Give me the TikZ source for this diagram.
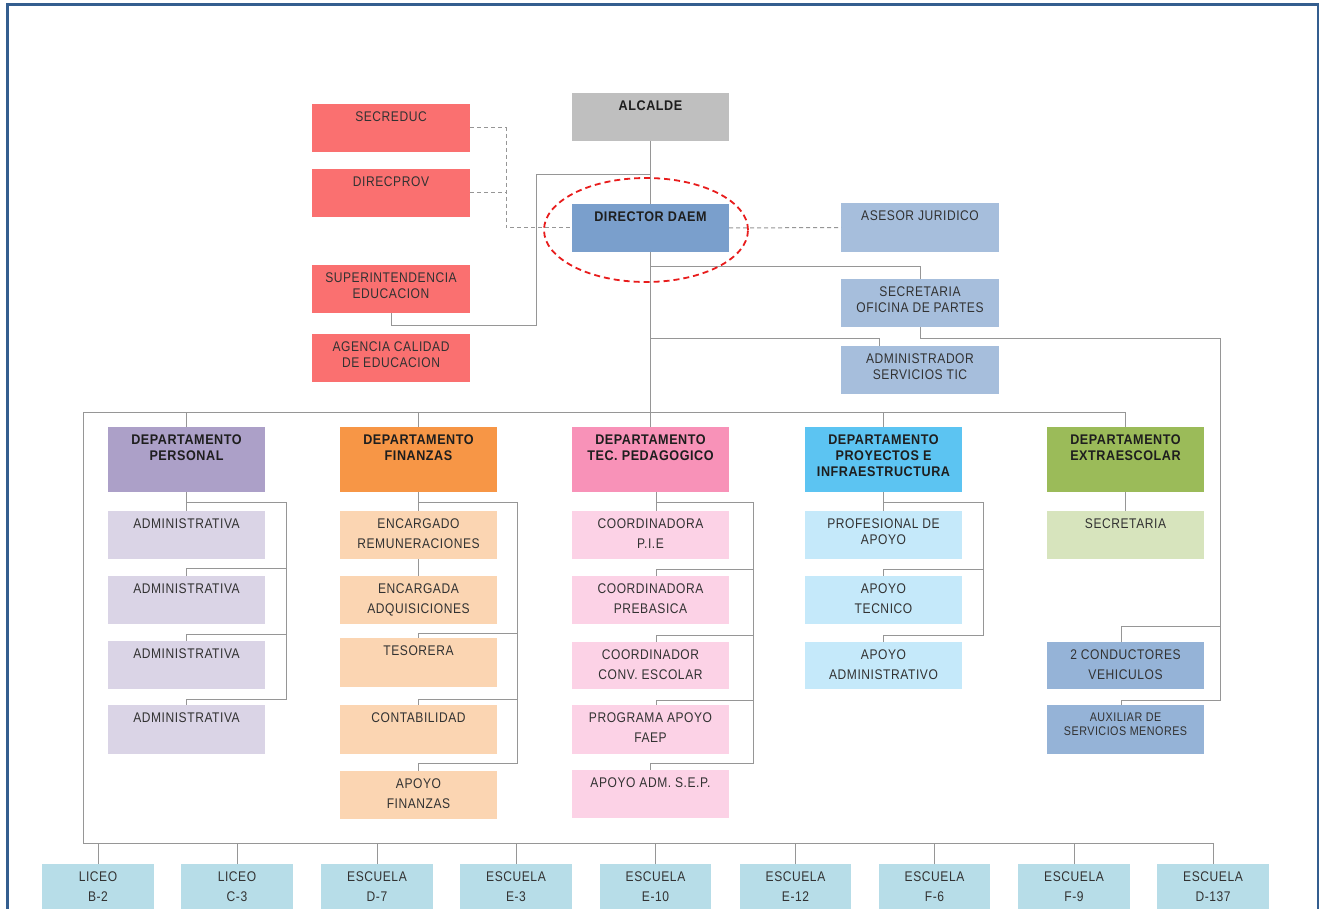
\documentclass[tikz,border=0pt]{standalone}
\usepackage{fontspec}
\newfontfamily\orgfont[FakeStretch=0.86,LetterSpace=4,BoldFeatures={FakeStretch=0.9}]{Liberation Sans}
\definecolor{frame}{RGB}{52,94,143}
\definecolor{lngray}{RGB}{150,150,150}
\definecolor{txtgray}{RGB}{50,50,50}
\definecolor{hdgray}{RGB}{30,30,30}
\definecolor{cGray}{RGB}{191,191,191}
\definecolor{cRed}{RGB}{250,112,112}
\definecolor{cDir}{RGB}{122,159,204}
\definecolor{cLB}{RGB}{166,190,220}
\definecolor{cPur}{RGB}{172,160,200}
\definecolor{cPurL}{RGB}{218,212,230}
\definecolor{cOr}{RGB}{247,150,70}
\definecolor{cOrL}{RGB}{251,213,178}
\definecolor{cPk}{RGB}{248,146,184}
\definecolor{cPkL}{RGB}{252,210,230}
\definecolor{cSky}{RGB}{92,196,242}
\definecolor{cSkyL}{RGB}{197,233,250}
\definecolor{cGr}{RGB}{155,187,89}
\definecolor{cGrL}{RGB}{215,228,189}
\definecolor{cMB}{RGB}{149,179,215}
\definecolor{cSch}{RGB}{183,221,232}
\definecolor{hlred}{RGB}{232,28,28}
\newcommand{\bx}[8]{%
  \node[box,fill=#6,minimum width={#4-#2},minimum height={#5-#3},anchor=north west] (#1) at (#2,#3) {};
  \node[txt,#7,anchor=north] (#1-t) at ([yshift=-8pt]#1.north) {#8};}
\tikzset{
  box/.style={rectangle,draw=none,inner sep=0pt,outer sep=0pt},
  txt/.style={inner sep=0pt,outer sep=0pt,align=center,text=txtgray,font=\orgfont\fontsize{14}{16}\selectfont},
  lsp/.style={font=\orgfont\fontsize{14}{20}\selectfont},
  hd/.style={text=hdgray,font=\orgfont\bfseries\fontsize{14}{16}\selectfont},
  sm/.style={font=\orgfont\fontsize{12.5}{14}\selectfont},
  ln/.style={draw=lngray,line width=1pt},
  dln/.style={draw=lngray,line width=1pt,dash pattern=on 4pt off 3pt},
}
\begin{document}
\begin{tikzpicture}[x=1pt,y=-1pt]
\useasboundingbox (0,0) rectangle (1321,909);
\fill[white] (0,0) rectangle (1321,909);
% frame
\draw[frame,line width=2.7pt] (7.3,915) -- (7.3,4.3) -- (1318,4.3) -- (1318,915);

% top level
\bx{alcalde}{572}{93}{729}{141}{cGray}{hd}{ALCALDE}
\bx{secreduc}{312}{104}{470}{152}{cRed}{}{SECREDUC}
\bx{direcprov}{312}{169}{470}{217}{cRed}{}{DIRECPROV}
\bx{superint}{312}{265}{470}{313}{cRed}{}{SUPERINTENDENCIA\\EDUCACION}
\bx{agencia}{312}{334}{470}{382}{cRed}{}{AGENCIA CALIDAD\\DE EDUCACION}
\bx{director}{572}{204}{729}{252}{cDir}{hd}{DIRECTOR DAEM}
\bx{asesor}{841}{203}{999}{252}{cLB}{}{ASESOR JURIDICO}
\bx{secofi}{841}{279}{999}{327}{cLB}{}{SECRETARIA\\OFICINA DE PARTES}
\bx{admtic}{841}{346}{999}{394}{cLB}{}{ADMINISTRADOR\\SERVICIOS TIC}

% departments
\bx{personal}{108}{427}{265}{492}{cPur}{hd}{DEPARTAMENTO\\PERSONAL}
\bx{fin}{340}{427}{497}{492}{cOr}{hd}{DEPARTAMENTO\\FINANZAS}
\bx{tecped}{572}{427}{729}{492}{cPk}{hd}{DEPARTAMENTO\\TEC. PEDAGOGICO}
\bx{proy}{805}{427}{962}{492}{cSky}{hd}{DEPARTAMENTO\\PROYECTOS E\\INFRAESTRUCTURA}
\bx{extra}{1047}{427}{1204}{492}{cGr}{hd}{DEPARTAMENTO\\EXTRAESCOLAR}

% personal
\bx{p1}{108}{511}{265}{559}{cPurL}{}{ADMINISTRATIVA}
\bx{p2}{108}{576}{265}{624}{cPurL}{}{ADMINISTRATIVA}
\bx{p3}{108}{641}{265}{689}{cPurL}{}{ADMINISTRATIVA}
\bx{p4}{108}{705}{265}{754}{cPurL}{}{ADMINISTRATIVA}
% finanzas
\bx{f1}{340}{511}{497}{559}{cOrL}{lsp}{ENCARGADO\\REMUNERACIONES}
\bx{f2}{340}{576}{497}{624}{cOrL}{lsp}{ENCARGADA\\ADQUISICIONES}
\bx{f3}{340}{638}{497}{687}{cOrL}{}{TESORERA}
\bx{f4}{340}{705}{497}{754}{cOrL}{}{CONTABILIDAD}
\bx{f5}{340}{771}{497}{819}{cOrL}{lsp}{APOYO\\FINANZAS}
% tec pedagogico
\bx{t1}{572}{511}{729}{559}{cPkL}{lsp}{COORDINADORA\\P.I.E}
\bx{t2}{572}{576}{729}{624}{cPkL}{lsp}{COORDINADORA\\PREBASICA}
\bx{t3}{572}{642}{729}{689}{cPkL}{lsp}{COORDINADOR\\CONV. ESCOLAR}
\bx{t4}{572}{705}{729}{754}{cPkL}{lsp}{PROGRAMA APOYO\\FAEP}
\bx{t5}{572}{770}{729}{818}{cPkL}{}{APOYO ADM. S.E.P.}
% proyectos
\bx{q1}{805}{511}{962}{559}{cSkyL}{}{PROFESIONAL DE\\APOYO}
\bx{q2}{805}{576}{962}{624}{cSkyL}{lsp}{APOYO\\TECNICO}
\bx{q3}{805}{642}{962}{689}{cSkyL}{lsp}{APOYO\\ADMINISTRATIVO}
% extraescolar
\bx{es}{1047}{511}{1204}{559}{cGrL}{}{SECRETARIA}
\bx{cond}{1047}{642}{1204}{689}{cMB}{lsp}{2 CONDUCTORES\\VEHICULOS}
\bx{aux}{1047}{705}{1204}{754}{cMB}{sm}{AUXILIAR DE\\SERVICIOS MENORES}

% schools
\bx{s1}{42}{864}{154}{915}{cSch}{lsp}{LICEO\\B-2}
\bx{s2}{181}{864}{293}{915}{cSch}{lsp}{LICEO\\C-3}
\bx{s3}{321}{864}{433}{915}{cSch}{lsp}{ESCUELA\\D-7}
\bx{s4}{460}{864}{572}{915}{cSch}{lsp}{ESCUELA\\E-3}
\bx{s5}{600}{864}{711}{915}{cSch}{lsp}{ESCUELA\\E-10}
\bx{s6}{740}{864}{851}{915}{cSch}{lsp}{ESCUELA\\E-12}
\bx{s7}{879}{864}{990}{915}{cSch}{lsp}{ESCUELA\\F-6}
\bx{s8}{1018}{864}{1130}{915}{cSch}{lsp}{ESCUELA\\F-9}
\bx{s9}{1157}{864}{1269}{915}{cSch}{lsp}{ESCUELA\\D-137}

% junction coordinates
\coordinate (jS) at (650.5,175);
\coordinate (jA) at (650.5,266);
\coordinate (jT) at (650.5,338);
\coordinate (dj) at (506,228);
\coordinate (busL) at (83,412);
\coordinate (busB) at (83,843);
\coordinate (rail) at (1220,338);

% main line
\draw[ln] (alcalde.south) -- (director.north);
\draw[ln] (director.south) -- (tecped.north);
\draw[ln] (jS) -| (536,325) -| (superint.south);
\draw[dln] (secreduc.east) -| (dj) -- (director.west);
\draw[dln] (direcprov.east) -- (direcprov.east -| dj);
\draw[dln] (director.east) -- (asesor.west);
\draw[ln] (jA) -| (secofi.north);
\draw[ln] (jT) -| ([xshift=-41pt]admtic.north);
\draw[ln] (secofi.south) |- (rail) -- (1220,700) -| ([xshift=-4pt]aux.north);
\draw[ln] (1220,626) -| ([xshift=-4pt]cond.north);

% bus
\draw[ln] (extra.north) |- (busL) -- (busB) -| (s9.north);
\foreach \s in {personal,fin,proy}{\draw[ln] (\s.north) -- (\s.north |- busL);}
\foreach \s in {s1,s2,s3,s4,s5,s6,s7,s8}{\draw[ln] (\s.north) -- (\s.north |- busB);}

% personal tree
\draw[ln] (personal.south) -- (p1.north);
\draw[ln] (186.5,502) -- (286,502) -- (286,699) -| (p4.north);
\draw[ln] (286,568) -| (p2.north);
\draw[ln] (286,634) -| (p3.north);
% finanzas tree
\draw[ln] (fin.south) -- (f1.north);
\draw[ln] (f1.south) -- (f2.north);
\draw[ln] (418.5,502) -- (517,502) -- (517,763) -| (f5.north);
\draw[ln] (517,633) -| (f3.north);
\draw[ln] (517,699) -| (f4.north);
% tec ped tree
\draw[ln] ([xshift=5.5pt]tecped.south) -- ([xshift=5.5pt]t1.north);
\draw[ln] (656,502) -- (753,502) -- (753,763) -| (t5.north);
\draw[ln] (753,569) -| ([xshift=5.5pt]t2.north);
\draw[ln] (753,635) -| ([xshift=5.5pt]t3.north);
\draw[ln] (753,700) -| ([xshift=5.5pt]t4.north);
% proyectos tree
\draw[ln] (proy.south) -- (q1.north);
\draw[ln] (883.5,502) -- (983,502) -- (983,635) -| (q3.north);
\draw[ln] (983,569) -| (q2.north);
% extraescolar
\draw[ln] (extra.south) -- (es.north);

% highlight ellipse
\draw[hlred,line width=1.8pt,dash pattern=on 6pt off 4pt] (646,230) ellipse [x radius=102pt, y radius=52pt];
\end{tikzpicture}
\end{document}
